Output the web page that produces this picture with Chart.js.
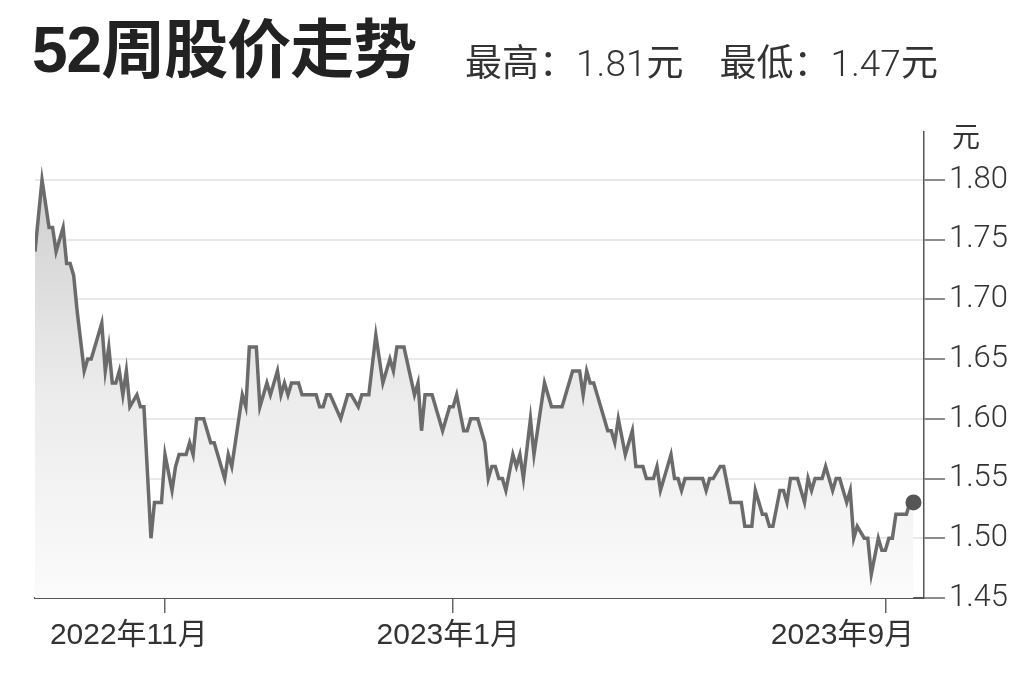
<!DOCTYPE html>
<html>
<head>
<meta charset="utf-8">
<script src="https://cdn.jsdelivr.net/npm/chart.js@4"></script>
<style>
  body { margin: 0; background: #fff; }
  #wrap { position: relative; width: 1024px; height: 682px; overflow: hidden; }
  #chart { position: absolute; left: 0; top: 0; }
  .Title { position: absolute; left: 32px; top: -2px; line-height: 1; font: bold 64px "Liberation Sans", "Noto Sans CJK SC", sans-serif; color: #222; letter-spacing: -1px; }
  .Sub-Title { position: absolute; left: 465px; top: 33px; line-height: 1; font: 37px "Noto Sans CJK SC", sans-serif; color: #333; white-space: pre; }
  .Sub-Title span { font-family: "Roboto", "Liberation Sans", sans-serif; font-weight: 300; }
  .Sub-Title .Gap { margin-left: 36px; font-family: "Noto Sans CJK SC", sans-serif; font-weight: 400; }
</style>
</head>
<body>
<div id="wrap">
  <canvas id="chart" width="1024" height="682"></canvas>
  <div class="Title">52周股价走势</div>
  <div class="Sub-Title">最高：<span>1.81</span>元<b class="Gap">最低：</b><span>1.47</span>元</div>
</div>
<script>
// trading day index (from start of the 52-week window) and closing price
var days = [0, 2, 4, 5, 6, 8, 9, 10, 11, 12, 14, 15, 16, 19, 20, 21, 22, 23, 24, 25, 26, 27, 29, 30, 31,
  33, 34, 36, 37, 39, 40, 41, 43, 44, 45, 46, 48, 50, 51, 54, 55, 56, 57, 59, 60, 61, 63, 64, 66, 67,
  69, 70, 71, 72, 73, 75, 76, 80, 81, 82, 83, 84, 87, 89, 90, 92, 93, 95, 97, 99, 101, 102, 103, 105,
  108, 109, 110, 111, 113, 114, 116, 118, 119, 120, 122, 123, 124, 126, 128, 129, 130, 131, 132, 133,
  134, 136, 137, 138, 139, 141, 142, 145, 147, 150, 153, 155, 156, 157, 158, 159, 160, 161, 163, 164,
  165, 166, 168, 170, 171, 173, 174, 176, 177, 178, 181, 182, 183, 184, 185, 190, 191, 192, 193, 195,
  196, 198, 201, 202, 204, 205, 207, 208, 209, 210, 212, 213, 214, 215, 217, 219, 220, 221, 222, 224,
  225, 227, 228, 229, 231, 232, 233, 234, 236, 237, 238, 240, 241, 242, 243, 244, 245, 248, 249, 250];
var prices = [1.74, 1.80, 1.76, 1.76, 1.74, 1.76, 1.73, 1.73, 1.72, 1.69, 1.64, 1.65, 1.65, 1.68, 1.64, 1.66, 1.63, 1.63, 1.64, 1.62, 1.64, 1.61, 1.62, 1.61, 1.61,
  1.50, 1.53, 1.53, 1.57, 1.54, 1.56, 1.57, 1.57, 1.58, 1.57, 1.60, 1.60, 1.58, 1.58, 1.55, 1.57, 1.56, 1.58, 1.62, 1.61, 1.66, 1.66, 1.61, 1.63, 1.62,
  1.64, 1.62, 1.63, 1.62, 1.63, 1.63, 1.62, 1.62, 1.61, 1.61, 1.62, 1.62, 1.60, 1.62, 1.62, 1.61, 1.62, 1.62, 1.67, 1.63, 1.65, 1.64, 1.66, 1.66,
  1.62, 1.63, 1.59, 1.62, 1.62, 1.61, 1.59, 1.61, 1.61, 1.62, 1.59, 1.59, 1.60, 1.60, 1.58, 1.55, 1.56, 1.56, 1.55, 1.55,
  1.54, 1.57, 1.56, 1.57, 1.55, 1.60, 1.57, 1.63, 1.61, 1.61, 1.64, 1.64, 1.62, 1.64, 1.63, 1.63, 1.62, 1.61, 1.59, 1.59,
  1.58, 1.60, 1.57, 1.59, 1.56, 1.56, 1.55, 1.55, 1.56, 1.54, 1.57, 1.55, 1.55, 1.54, 1.55, 1.55, 1.54, 1.55, 1.55, 1.56,
  1.56, 1.53, 1.53, 1.51, 1.51, 1.54, 1.52, 1.52, 1.51, 1.51, 1.54, 1.54, 1.53, 1.55, 1.55, 1.53, 1.55, 1.54, 1.55, 1.55,
  1.56, 1.54, 1.55, 1.55, 1.53, 1.54, 1.50, 1.51, 1.50, 1.50, 1.47, 1.50, 1.49, 1.49, 1.50, 1.50, 1.52, 1.52, 1.53, 1.53];
var yTicks = [1.45, 1.50, 1.55, 1.60, 1.65, 1.70, 1.75, 1.80];
// tick marks on the time axis, and where their labels sit (labels are not centred on the marks)
var xTickDays = [37, 119, 242];
var xLabelDays = [26.7, 117.6, 229.8];
var xTickLabels = ["2022年11月", "2023年1月", "2023年9月"];

var points = days.map(function (d, i) { return { x: d, y: prices[i] }; });

// "元" unit above the price axis
var unitLabel = {
  id: "unitLabel",
  afterDraw: function (chart) {
    var ctx = chart.ctx;
    var ys = chart.scales.y;
    ctx.save();
    ctx.font = "28px 'Noto Sans CJK SC'";
    ctx.fillStyle = "#333";
    ctx.textBaseline = "middle";
    ctx.fillText("元", ys.left + 28, chart.chartArea.top + 4);
    ctx.restore();
  }
};

var ctx = document.getElementById("chart").getContext("2d");
var chart = new Chart(ctx, {
  type: "line",
  data: {
    datasets: [{
      data: points,
      borderColor: "#6b6b6b",
      borderWidth: 3.5,
      tension: 0,
      fill: "start",
      backgroundColor: function (c) {
        var area = c.chart.chartArea;
        if (!area) return "#eee";
        var top = c.chart.scales.y.getPixelForValue(1.80);
        var g = c.chart.ctx.createLinearGradient(0, top, 0, area.bottom);
        g.addColorStop(0, "#cfcfcf");
        g.addColorStop(0.5, "#ebebeb");
        g.addColorStop(1, "#fbfbfb");
        return g;
      },
      pointRadius: function (c) { return c.dataIndex === points.length - 1 ? 8 : 0; },
      pointBackgroundColor: "#555",
      pointBorderWidth: 0,
      pointHoverRadius: 0
    }]
  },
  options: {
    responsive: false,
    animation: false,
    layout: { padding: { left: 35, top: 132, right: 0, bottom: 0 } },
    plugins: { legend: { display: false }, tooltip: { enabled: false } },
    scales: {
      x: {
        type: "linear",
        min: 0,
        max: 253,
        afterBuildTicks: function (s) { s.ticks = xTickDays.map(function (v) { return { value: v }; }); },
        afterFit: function (s) { s.height = 15; },
        grid: { drawOnChartArea: false, drawTicks: true, tickLength: 15, tickColor: "#666", lineWidth: 1.5 },
        border: { display: true, color: "#555", width: 2 },
        ticks: { display: false }
      },
      xLabels: {
        type: "linear",
        position: "bottom",
        min: 0,
        max: 253,
        afterBuildTicks: function (s) { s.ticks = xLabelDays.map(function (v) { return { value: v }; }); },
        afterFit: function (s) { s.height = 69; },
        grid: { display: false },
        border: { display: false },
        ticks: {
          autoSkip: false,
          maxRotation: 0,
          padding: -3,
          color: "#333",
          font: { family: "'Liberation Sans Narrow', 'Liberation Sans', 'Noto Sans CJK SC'", size: 30 },
          callback: function (v, i) { return xTickLabels[i]; }
        }
      },
      y: {
        position: "right",
        min: 1.45,
        max: 1.84,
        afterBuildTicks: function (s) { s.ticks = yTicks.map(function (v) { return { value: v }; }); },
        afterFit: function (s) { s.width = 100; },
        grid: { color: "#e9e9e9", lineWidth: 2, drawTicks: true, tickLength: 21, tickColor: "#666", tickWidth: 1.5 },
        border: { display: true, color: "#555", width: 1.5 },
        ticks: {
          padding: 4,
          color: "#333",
          font: { family: "Roboto, 'Liberation Sans'", size: 31, weight: "300" },
          callback: function (v) { return v.toFixed(2); }
        }
      }
    }
  },
  plugins: [unitLabel]
});
</script>
</body>
</html>
